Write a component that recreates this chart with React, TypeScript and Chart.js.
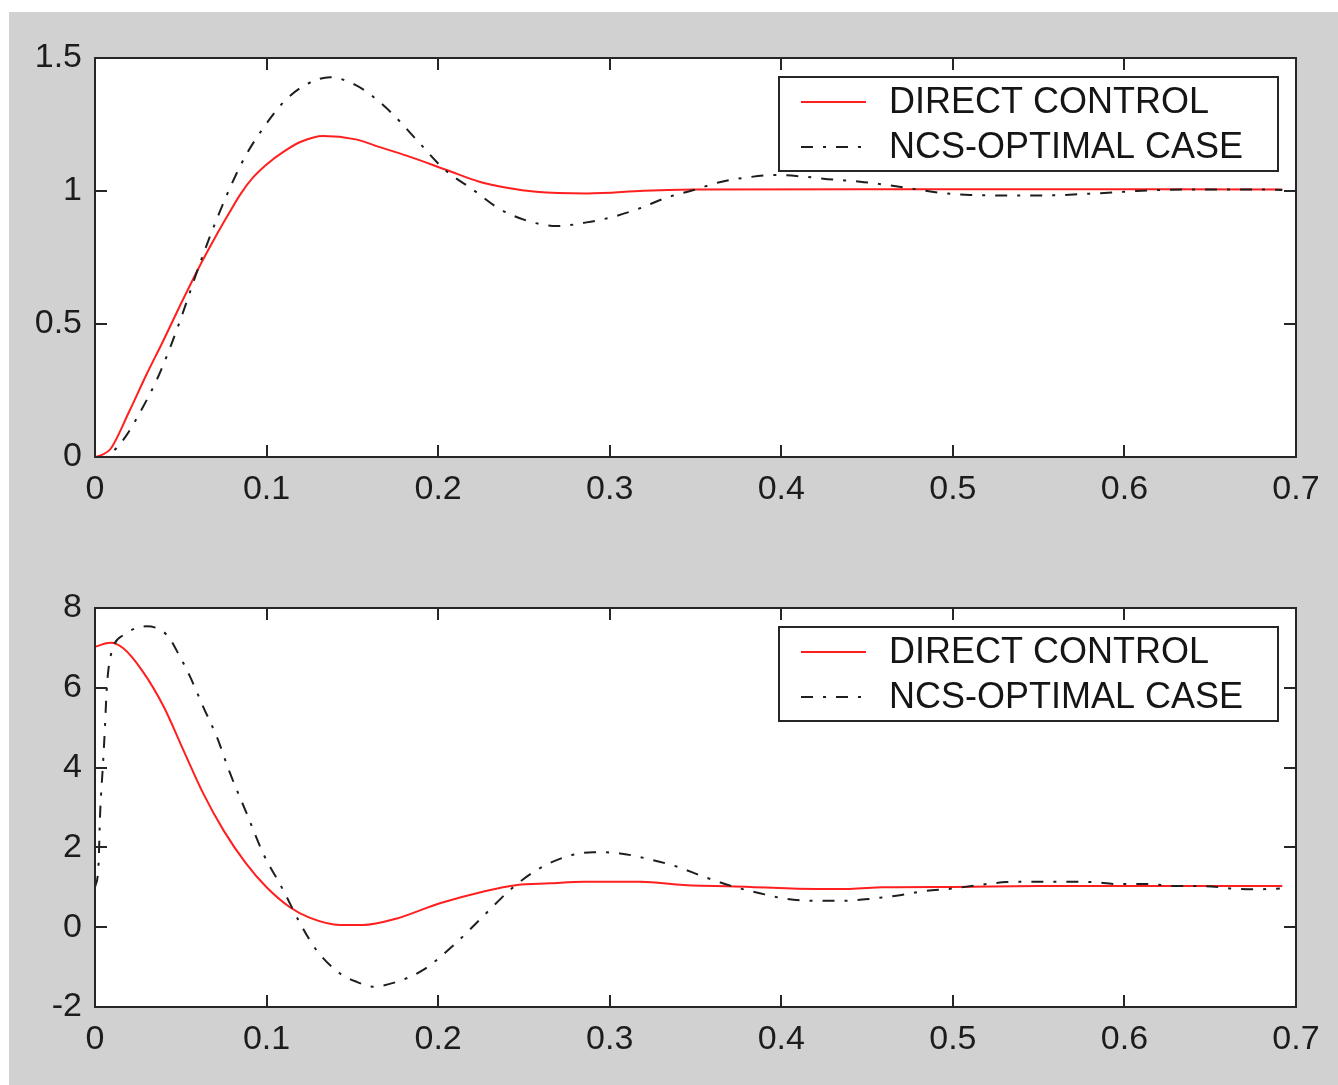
import React, { useEffect, useRef } from "react";
import { Chart, registerables } from "chart.js";

Chart.register(...registerables);

// ---- tick labels ----
const xTicks = [0, 0.1, 0.2, 0.3, 0.4, 0.5, 0.6, 0.7];
const yTicksTop = [0, 0.5, 1, 1.5];
const yTicksBottom = [-2, 0, 2, 4, 6, 8];
const seriesLabels = ["DIRECT CONTROL", "NCS-OPTIMAL CASE"];

// ---- top plot: DIRECT CONTROL ----
const topDirectT = [0, 0.004, 0.009, 0.02, 0.03, 0.04, 0.05, 0.06, 0.07, 0.078, 0.085, 0.092, 0.1, 0.11, 0.12, 0.133, 0.152, 0.166, 0.182, 0.205, 0.224, 0.24, 0.257, 0.287, 0.32, 0.35, 0.45, 0.55, 0.692];
const topDirectY = [0, 0.008, 0.03, 0.172, 0.31, 0.44, 0.575, 0.705, 0.825, 0.915, 0.99, 1.05, 1.1, 1.148, 1.185, 1.207, 1.194, 1.165, 1.132, 1.079, 1.035, 1.012, 0.997, 0.991, 1.001, 1.006, 1.007, 1.007, 1.006];

// ---- top plot: NCS-OPTIMAL CASE ----
const topNcsT = [0, 0.006, 0.012, 0.0185, 0.026, 0.036, 0.044, 0.05, 0.061, 0.071, 0.081, 0.088, 0.098, 0.11, 0.123, 0.137, 0.152, 0.162, 0.174, 0.1875, 0.203, 0.2205, 0.236, 0.2535, 0.269, 0.2865, 0.302, 0.3176, 0.333, 0.349, 0.364, 0.38, 0.397, 0.413, 0.43, 0.446, 0.462, 0.477, 0.494, 0.51, 0.543, 0.56, 0.576, 0.593, 0.607, 0.638, 0.657, 0.673, 0.692];
const topNcsY = [0, 0.0, 0.03, 0.083, 0.165, 0.29, 0.415, 0.52, 0.725, 0.895, 1.045, 1.135, 1.236, 1.335, 1.4, 1.428, 1.398, 1.355, 1.286, 1.192, 1.085, 1.004, 0.932, 0.885, 0.868, 0.882, 0.903, 0.935, 0.975, 1.004, 1.033, 1.051, 1.06, 1.054, 1.043, 1.035, 1.022, 1.008, 0.992, 0.985, 0.983, 0.984, 0.989, 0.994, 1.0, 1.006, 1.006, 1.006, 1.004];

// ---- bottom plot: DIRECT CONTROL ----
const botDirectT = [0, 0.009, 0.0165, 0.028, 0.04, 0.0515, 0.063, 0.075, 0.088, 0.1, 0.1136, 0.125, 0.143, 0.156, 0.176, 0.201, 0.226, 0.246, 0.265, 0.285, 0.318, 0.343, 0.382, 0.42, 0.44, 0.459, 0.5, 0.55, 0.692];
const botDirectY = [7.03, 7.13, 6.99, 6.4, 5.53, 4.44, 3.36, 2.42, 1.6, 1.0, 0.5, 0.24, 0.055, 0.055, 0.22, 0.6, 0.89, 1.06, 1.1, 1.14, 1.14, 1.06, 1.01, 0.96, 0.96, 1.0, 1.01, 1.03, 1.03];

// ---- bottom plot: NCS-OPTIMAL CASE ----
const botNcsT = [0, 0.002, 0.003, 0.0048, 0.0058, 0.0068, 0.0078, 0.0107, 0.0165, 0.03, 0.042, 0.0495, 0.0554, 0.063, 0.071, 0.0787, 0.0884, 0.098, 0.1097, 0.1195, 0.129, 0.1428, 0.1525, 0.162, 0.1758, 0.1913, 0.209, 0.228, 0.2418, 0.2574, 0.2749, 0.2904, 0.306, 0.3234, 0.339, 0.3545, 0.372, 0.3875, 0.403, 0.4206, 0.436, 0.4516, 0.467, 0.4827, 0.5, 0.5157, 0.5313, 0.5488, 0.566, 0.581, 0.597, 0.613, 0.63, 0.646, 0.663, 0.678, 0.6906];
const botNcsY = [1.0, 1.52, 2.86, 4.19, 5.02, 5.94, 6.45, 7.03, 7.32, 7.54, 7.32, 6.78, 6.28, 5.53, 4.77, 3.86, 2.85, 1.85, 0.93, 0.1, -0.57, -1.16, -1.37, -1.49, -1.37, -1.07, -0.45, 0.35, 0.93, 1.43, 1.77, 1.88, 1.85, 1.7, 1.52, 1.27, 1.02, 0.85, 0.71, 0.66, 0.66, 0.71, 0.79, 0.9, 0.97, 1.06, 1.13, 1.14, 1.14, 1.13, 1.08, 1.08, 1.03, 1.03, 0.97, 0.95, 0.97];

const FONT = "'Liberation Sans', Arial, Helvetica, sans-serif";
const AXIS_COLOR = "#262626";
const RED = "#ff1f1f";
const BLACK = "#1e1e1e";
const NCS_DASH = [12, 10, 3, 10];
const TICK_LEN = 12;

function pts(t: number[], y: number[]) {
  return t.map((x, i) => ({ x, y: y[i] }));
}

const framePlugin = {
  id: "matlabFrame",
  beforeDraw(chart: any) {
    const { ctx, chartArea: a } = chart;
    ctx.save();
    ctx.fillStyle = "#ffffff";
    ctx.fillRect(a.left, a.top, a.right - a.left, a.bottom - a.top);
    ctx.restore();
  },
  afterDatasetsDraw(chart: any) {
    const { ctx, chartArea: a } = chart;
    const xs = chart.scales.x;
    const ys = chart.scales.y;
    ctx.save();
    ctx.strokeStyle = AXIS_COLOR;
    ctx.lineWidth = 2;
    ctx.beginPath();
    xs.ticks.forEach((t: any) => {
      const px = Math.round(xs.getPixelForValue(t.value));
      ctx.moveTo(px, a.bottom);
      ctx.lineTo(px, a.bottom - TICK_LEN);
      ctx.moveTo(px, a.top);
      ctx.lineTo(px, a.top + TICK_LEN);
    });
    ys.ticks.forEach((t: any) => {
      const py = Math.round(ys.getPixelForValue(t.value));
      ctx.moveTo(a.left, py);
      ctx.lineTo(a.left + TICK_LEN, py);
      ctx.moveTo(a.right, py);
      ctx.lineTo(a.right - TICK_LEN, py);
    });
    ctx.stroke();
    ctx.strokeRect(a.left, a.top, a.right - a.left, a.bottom - a.top);
    ctx.restore();
  },
  afterDraw(chart: any) {
    const { ctx, chartArea: a } = chart;
    const boxW = 499;
    const boxH = 94;
    const bx = a.right - 18 - boxW;
    const by = a.top + 19;
    ctx.save();
    ctx.fillStyle = "#ffffff";
    ctx.fillRect(bx, by, boxW, boxH);
    ctx.strokeStyle = AXIS_COLOR;
    ctx.lineWidth = 2;
    ctx.strokeRect(bx, by, boxW, boxH);
    const rows = [by + 25, by + 70];
    seriesLabels.forEach((label, i) => {
      const ds = chart.data.datasets.find((d: any) => d.label === label);
      if (!ds) return;
      const y = rows[i];
      ctx.beginPath();
      ctx.strokeStyle = ds.borderColor;
      ctx.lineWidth = ds.borderWidth;
      ctx.setLineDash(ds.borderDash || []);
      ctx.moveTo(bx + 22, y);
      ctx.lineTo(bx + 87, y);
      ctx.stroke();
      ctx.setLineDash([]);
      ctx.fillStyle = "#151515";
      ctx.font = `36px ${FONT}`;
      ctx.textBaseline = "middle";
      ctx.textAlign = "left";
      ctx.fillText(label, bx + 110, y + 1);
    });
    ctx.restore();
  },
};

function makeConfig(
  direct: { x: number; y: number }[],
  ncs: { x: number; y: number }[],
  yMin: number,
  yMax: number,
  yTicks: number[],
  topPad: number,
  xAxisH: number
): any {
  const tickFont = { family: FONT, size: 34 };
  return {
    type: "line",
    data: {
      datasets: [
        {
          label: seriesLabels[1],
          data: ncs,
          borderColor: BLACK,
          borderWidth: 2,
          borderDash: NCS_DASH,
          pointRadius: 0,
          fill: false,
          cubicInterpolationMode: "monotone",
        },
        {
          label: seriesLabels[0],
          data: direct,
          borderColor: RED,
          borderWidth: 2,
          pointRadius: 0,
          fill: false,
          cubicInterpolationMode: "monotone",
        },
      ],
    },
    options: {
      responsive: false,
      animation: false,
      devicePixelRatio: 1,
      layout: { padding: { left: 0, right: 42, top: topPad, bottom: 0 } },
      plugins: { legend: { display: false }, tooltip: { enabled: false } },
      scales: {
        x: {
          type: "linear",
          min: 0,
          max: 0.7,
          afterBuildTicks: (s: any) => {
            s.ticks = xTicks.map((v) => ({ value: v }));
          },
          afterFit: (s: any) => {
            s.height = xAxisH;
          },
          grid: { display: false, drawTicks: false },
          border: { display: false },
          ticks: {
            padding: 12,
            font: tickFont,
            color: "#1c1c1c",
            autoSkip: false,
            maxRotation: 0,
            callback: (v: number) => String(v),
          },
        },
        y: {
          type: "linear",
          min: yMin,
          max: yMax,
          afterBuildTicks: (s: any) => {
            s.ticks = yTicks.map((v) => ({ value: v }));
          },
          afterFit: (s: any) => {
            s.width = 86;
          },
          grid: { display: false, drawTicks: false },
          border: { display: false },
          ticks: {
            padding: 13,
            font: tickFont,
            color: "#1c1c1c",
            autoSkip: false,
            callback: (v: number) => String(v),
          },
        },
      },
    },
    plugins: [framePlugin],
  };
}

export default function App() {
  const topRef = useRef<HTMLCanvasElement | null>(null);
  const botRef = useRef<HTMLCanvasElement | null>(null);

  useEffect(() => {
    const c1 = new Chart(
      topRef.current as HTMLCanvasElement,
      makeConfig(pts(topDirectT, topDirectY), pts(topNcsT, topNcsY), 0, 1.5, yTicksTop, 46, 95)
    );
    const c2 = new Chart(
      botRef.current as HTMLCanvasElement,
      makeConfig(pts(botDirectT, botDirectY), pts(botNcsT, botNcsY), -2, 8, yTicksBottom, 56, 78)
    );
    return () => {
      c1.destroy();
      c2.destroy();
    };
  }, []);

  return (
    <div
      style={{
        position: "absolute",
        left: 9,
        top: 12,
        width: 1329,
        height: 1073,
        background: "#d1d1d1",
        overflow: "hidden",
      }}
    >
      <canvas
        ref={topRef}
        width={1329}
        height={540}
        style={{ position: "absolute", left: 0, top: 0, width: 1329, height: 540 }}
      />
      <canvas
        ref={botRef}
        width={1329}
        height={533}
        style={{ position: "absolute", left: 0, top: 540, width: 1329, height: 533 }}
      />
    </div>
  );
}
